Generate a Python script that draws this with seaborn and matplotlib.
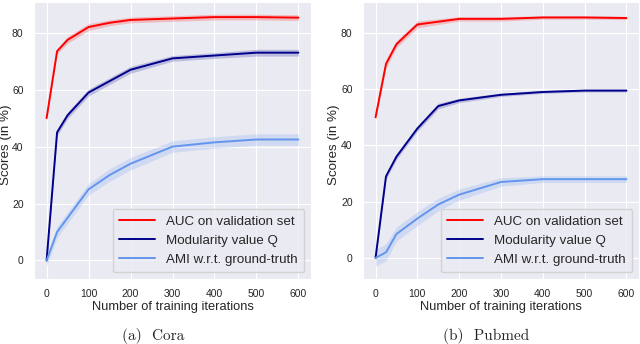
import numpy as np
import pandas as pd
import matplotlib
matplotlib.use("Agg")
import matplotlib.pyplot as plt
import seaborn as sns

# data
iters = [0, 25, 50, 100, 150, 200, 300, 400, 500, 600]

cora_auc = [50, 73.5, 77.5, 82, 83.5, 84.5, 85, 85.5, 85.5, 85.3]
cora_q = [0, 45, 51, 59, 63, 67, 71, 72, 73, 73]
cora_ami = [0, 10, 15, 25, 30, 34, 40, 41.5, 42.5, 42.5]
cora_auc_sd = [1, 1, 1.2, 1.2, 1, 1, 1, 1, 1, 1]
cora_q_sd = [1, 1.2, 1.2, 1.2, 1.2, 1.2, 1, 1, 1.2, 1.2]
cora_ami_sd = [2, 2, 2, 2, 2.2, 2.2, 2, 2, 2, 2]

pub_auc = [50, 69, 76, 83, 84, 85, 85, 85.5, 85.5, 85.3]
pub_q = [0, 29, 36, 46, 54, 56, 58, 59, 59.5, 59.5]
pub_ami = [0, 2, 8.5, 14, 19, 22.5, 27, 28, 28, 28]
pub_auc_sd = [1, 1.5, 1.2, 1.2, 1, 0.8, 0.8, 0.6, 0.6, 0.6]
pub_q_sd = [1, 1, 1, 1, 1, 0.8, 0.6, 0.5, 0.5, 0.5]
pub_ami_sd = [3, 3, 2.5, 2.5, 2.2, 2, 1.5, 1.2, 1.2, 1.2]

labels = ["AUC on validation set", "Modularity value Q", "AMI w.r.t. ground-truth"]
colors = ["#ff0000", "#00008b", "#6495ed"]

sns.set_style("darkgrid")
plt.rcParams["font.family"] = ["Liberation Sans", "DejaVu Sans"]

fig = plt.figure(figsize=(6.4, 3.44), dpi=100)
ax1 = fig.add_axes([34 / 640, 65 / 344, 277 / 640, 277 / 344])
ax2 = fig.add_axes([363 / 640, 65 / 344, 276 / 640, 277 / 344])

panels = [
    (ax1, [cora_auc, cora_q, cora_ami], [cora_auc_sd, cora_q_sd, cora_ami_sd], "(a)  Cora", 153, -0.078),
    (ax2, [pub_auc, pub_q, pub_ami], [pub_auc_sd, pub_q_sd, pub_ami_sd], "(b)  Pubmed", 486, -0.084),
]

for ax, series, spreads, caption, cx, lx in panels:
    for vals, sd, lab, col in zip(series, spreads, labels, colors):
        df = pd.DataFrame({"it": iters, "score": vals})
        sns.lineplot(data=df, x="it", y="score", ax=ax, color=col, label=lab, lw=1.4)
        lo = np.array(vals) - np.array(sd)
        hi = np.array(vals) + np.array(sd)
        ax.fill_between(iters, lo, hi, color=col, alpha=0.2, lw=0)
    ax.set_xlim(-30, 630)
    ax.set_xticks([0, 100, 200, 300, 400, 500, 600])
    ax.set_yticks([0, 20, 40, 60, 80])
    ax.tick_params(labelsize=7.5, pad=4)
    ax.set_xlabel("Number of training iterations", fontsize=9.3, labelpad=1)
    ax.set_ylabel("Scores (in %)", fontsize=9.6)
    ax.yaxis.set_label_coords(lx, 0.485)
    ax.legend(loc="lower right", fontsize=9.6, facecolor="#eaeaf2", framealpha=0.8,
              handlelength=2.7, borderpad=0.5, labelspacing=0.5)
    fig.text(cx / 640, 0.0, caption, ha="center", va="bottom",
             fontsize=11, family="cmr10")

ax1.set_ylim(-6.5, 90.8)
ax2.set_ylim(-7.5, 91)

fig.savefig("out.png", dpi=100)
